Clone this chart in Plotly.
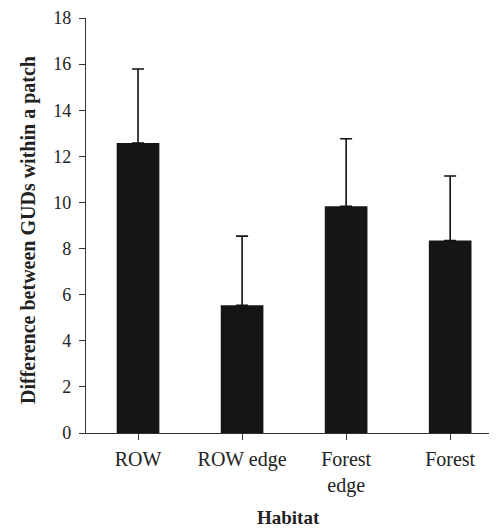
import plotly.graph_objects as go

categories = ["ROW", "ROW edge", "Forest edge", "Forest"]
tick_labels = ["ROW", "ROW edge", "Forest<br>edge", "Forest"]
means = [12.58, 5.54, 9.83, 8.35]
errors_upper = [3.21, 3.0, 2.93, 2.8]
y_ticks = [0, 2, 4, 6, 8, 10, 12, 14, 16, 18]

# page body has an 8px default margin, so the figure is offset by 8px
OFF = 8
W, H = 497 - OFF, 530 - OFF
plot_left, plot_top, plot_bottom = 86 - OFF, 18 - OFF, 433 - OFF
ml, mr, mt, mb = plot_left, 0, plot_top, H - plot_bottom
plot_w = W - ml - mr
plot_h = plot_bottom - plot_top

fig = go.Figure()
fig.add_trace(go.Bar(
    x=list(range(len(categories))),
    y=means,
    marker=dict(color="#151515", line=dict(width=0)),
    error_y=dict(type="data", symmetric=False, array=errors_upper,
                 arrayminus=[0] * len(means), color="#111111",
                 thickness=1.6, width=6),
    hoverinfo="skip",
))

font = "Liberation Serif, Times New Roman, serif"
fig.update_layout(
    width=W, height=H,
    margin=dict(l=ml, r=mr, t=mt, b=mb, pad=0),
    paper_bgcolor="white", plot_bgcolor="white",
    bargap=0.59,
    showlegend=False,
    font=dict(family=font, size=19, color="#222222"),
)
fig.update_xaxes(
    range=[-0.5, 3.45],
    tickvals=list(range(len(categories))),
    ticktext=tick_labels,
    tickson="boundaries",
    ticks="outside", ticklen=6, tickwidth=1.2, tickcolor="#333333",
    showline=True, linecolor="#333333", linewidth=1.2,
    showgrid=False, zeroline=False,
    ticklabelstandoff=2,
    tickfont=dict(family=font, size=20, color="#222222"),
)
fig.update_yaxes(
    range=[0, 18],
    tickvals=y_ticks,
    ticks="outside", ticklen=6, tickwidth=1.2, tickcolor="#333333",
    showline=True, linecolor="#333333", linewidth=1.2,
    showgrid=False, zeroline=False,
    ticklabelstandoff=4,
    tickfont=dict(family=font, size=18, color="#222222"),
)
fig.add_annotation(
    text="<b>Difference between GUDs within a patch</b>",
    xref="paper", yref="paper",
    x=((28 - OFF) - ml) / plot_w, y=(plot_bottom - (230 - OFF)) / plot_h,
    textangle=-90, showarrow=False, xanchor="center", yanchor="middle",
    font=dict(family=font, size=20, color="#222222"),
)
fig.add_annotation(
    text="<b>Habitat</b>",
    xref="paper", yref="paper",
    x=((288 - OFF) - ml) / plot_w, y=-((518 - OFF) - plot_bottom) / plot_h,
    showarrow=False, xanchor="center", yanchor="middle",
    font=dict(family=font, size=19, color="#222222"),
)
fig.write_html("out.html")
